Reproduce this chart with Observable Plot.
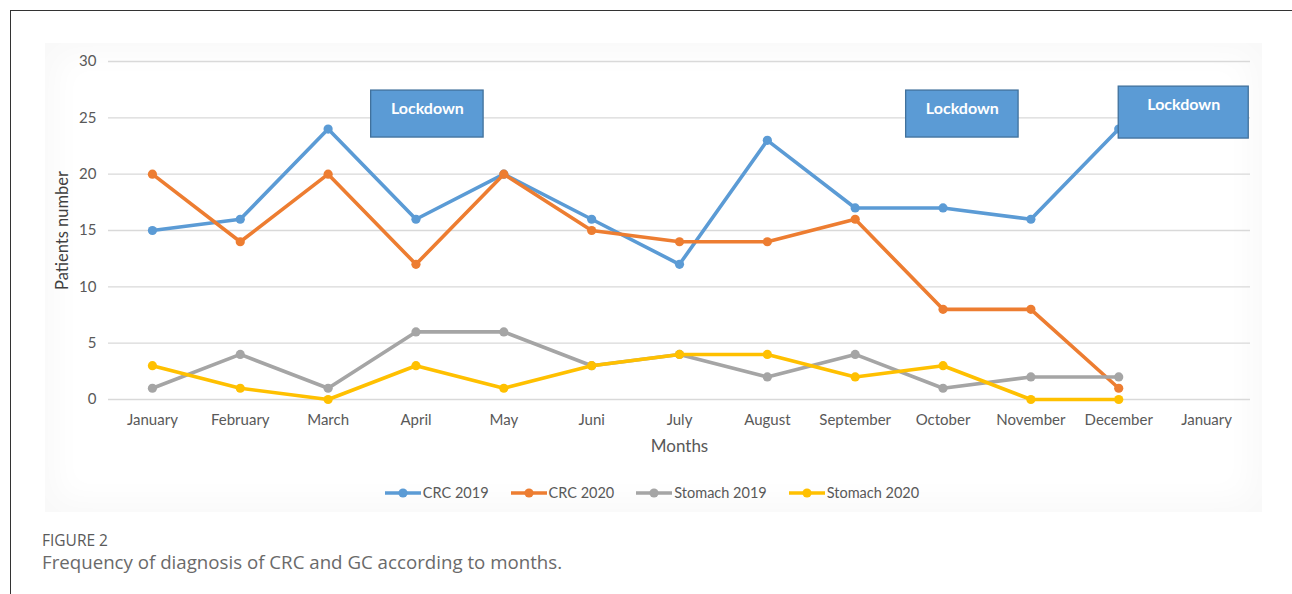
<!DOCTYPE html>
<html>
<head>
<meta charset="utf-8">
<script src="https://cdn.jsdelivr.net/npm/d3@7"></script>
<script src="https://cdn.jsdelivr.net/npm/@observablehq/plot@0.6"></script>
<style>
  html, body { margin: 0; padding: 0; background: #fff; width: 1292px; height: 594px; overflow: hidden; }
  #frame { position: absolute; left: 10px; top: 10px; width: 1300px; height: 600px; border-left: 1px solid #333; border-top: 1px solid #333; }
  #panel { position: absolute; left: 45px; top: 43px; width: 1217px; height: 469px; background: #fff; box-shadow: inset 0 0 30px 12px #f9f9f9; }
  #chart { position: absolute; left: 0; top: 0; }
  #legend { position: absolute; left: 0; width: 1304px; top: 484px; display: flex; justify-content: center; gap: 22px; font-family: Lato, sans-serif; font-size: 14.5px; color: #595959; }
  #legend .item { display: flex; align-items: center; gap: 2px; }
  #cap1 { position: absolute; left: 42px; top: 532px; line-height: 16px; font-family: "Open Sans", sans-serif; font-size: 15.5px; color: #5a5a5a; }
  #cap2 { position: absolute; left: 42px; top: 552px; line-height: 20px; font-family: "Open Sans", sans-serif; font-size: 18.7px; color: #6a6a6a; }
</style>
</head>
<body>
<div id="frame"></div>
<div id="panel"></div>
<div id="chart"></div>
<div id="legend"></div>
<div id="cap1">FIGURE 2</div>
<div id="cap2">Frequency of diagnosis of CRC and GC according to months.</div>
<script>
const months = ["January","February","March","April","May","Juni","July","August","September","October","November","December","January"];
const yTicks = [0,5,10,15,20,25,30];
const seriesNames = ["CRC 2019","CRC 2020","Stomach 2019","Stomach 2020"];
const seriesColors = ["#5b9bd5","#ed7d31","#a5a5a5","#ffc000"];
const crc2019 = [15,16,24,16,20,16,12,23,17,17,16,24];
const crc2020 = [20,14,20,12,20,15,14,14,16,8,8,1];
const stomach2019 = [1,4,1,6,6,3,4,2,4,1,2,2];
const stomach2020 = [3,1,0,3,1,3,4,4,2,3,0,0];
const lockLabel = ["Lockdown","Lockdown","Lockdown"];
const lockX1 = [2.49, 8.58, 11.0];
const lockX2 = [3.77, 9.86, 12.48];
const lockYBottom = [23.25, 23.25, 23.16];
const lockYTop = [27.42, 27.42, 27.77];

const allSeries = [crc2019, crc2020, stomach2019, stomach2020];
const rows = allSeries.map((vals, s) => vals.map((v, i) => ({i, value: v, series: seriesNames[s]})));
const boxes = lockLabel.map((t, k) => ({text: t, x1: lockX1[k], x2: lockX2[k], y1: lockYBottom[k], y2: lockYTop[k], xm: (lockX1[k] + lockX2[k]) / 2}));

const seriesMarks = rows.flatMap(r => [
  Plot.line(r, {x: "i", y: "value", stroke: "series", strokeWidth: 3.6, strokeLinejoin: "round"}),
  Plot.dot(r, {x: "i", y: "value", fill: "series", r: 4.6})
]);

const chart = Plot.plot({
  width: 1292,
  height: 470,
  marginTop: 61,
  marginBottom: 71,
  marginLeft: 108,
  marginRight: 42,
  style: {fontFamily: "Lato, sans-serif", fontSize: "15px", color: "#595959", background: "transparent"},
  x: {domain: [-0.5, 12.5], ticks: d3.range(13), tickFormat: i => months[i], tickSize: 0, tickPadding: 15, label: null},
  y: {domain: [0, 30], ticks: yTicks, tickSize: 0, tickPadding: 12, label: null},
  color: {domain: seriesNames, range: seriesColors},
  marks: [
    Plot.ruleY(yTicks, {stroke: "#d9d9d9", strokeWidth: 1.3}),
    ...seriesMarks,
    Plot.rect(boxes, {x1: "x1", x2: "x2", y1: "y1", y2: "y2", fill: "#5b9bd5", stroke: "#41719c", strokeWidth: 1.3}),
    Plot.text(boxes, {x: "xm", y: "y2", text: "text", dy: 18, fill: "#fff", fontWeight: "bold", fontSize: 16}),
    Plot.text(["Patients number"], {frameAnchor: "left", text: d => d, rotate: -90, dx: -46, textAnchor: "middle", lineAnchor: "middle", fontSize: 16.5, fill: "#404040"}),
    Plot.text(["Months"], {frameAnchor: "bottom", text: d => d, dy: 47, textAnchor: "middle", lineAnchor: "middle", fontSize: 17, fill: "#595959"})
  ]
});
document.getElementById("chart").appendChild(chart);

const legend = document.getElementById("legend");
seriesNames.forEach((name, k) => {
  const item = document.createElement("div");
  item.className = "item";
  item.innerHTML = `<svg width="36" height="12"><line x1="0" y1="6" x2="36" y2="6" stroke="${seriesColors[k]}" stroke-width="3.6"/><circle cx="18" cy="6" r="4.6" fill="${seriesColors[k]}"/></svg><span>${name}</span>`;
  legend.appendChild(item);
});
</script>
</body>
</html>
